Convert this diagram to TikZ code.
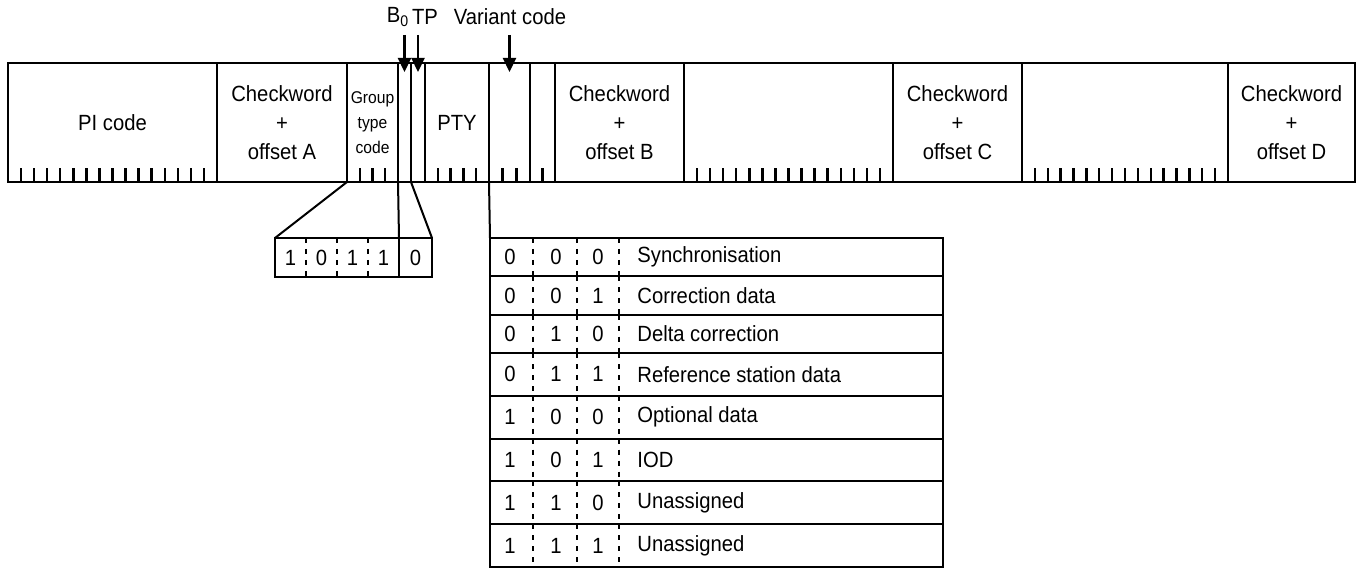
\documentclass[tikz,border=0pt]{standalone}
\usepackage{fontspec}
\setmainfont{Liberation Sans}[FakeStretch=0.92]
\usetikzlibrary{arrows.meta, positioning, calc}

\tikzset{
  fld/.style={draw, rectangle, line width=1.25pt, minimum height=59.5pt,
    inner sep=0pt, outer sep=0pt, align=center},
  tick/.style={line width=1.2pt},
  arr/.style={line width=1.1pt, -{Triangle[length=7pt,width=6.5pt]}},
  link/.style={line width=1pt},
  cell/.style={draw, rectangle, line width=1pt, minimum height=19.5pt,
    inner sep=0pt, outer sep=0pt},
  rowbox/.style={draw, rectangle, line width=1pt, minimum width=226.5pt,
    inner sep=0pt, outer sep=0pt},
  sep/.style={line width=1.2pt, dash pattern=on 2.5pt off 3pt},
  lbl/.style={inner sep=0pt}
}

\begin{document}
\begin{tikzpicture}[x=0.5pt, y=0.5pt, font=\fontsize{11}{14.5}\selectfont]
  \useasboundingbox (0,0) rectangle (1357,569);

  % the block of the group
  \node[fld, minimum width=104.5pt, anchor=south west] (pi) at (8,387) {PI code};
  \node[fld, minimum width=65pt, right=0pt of pi] (cka) {Checkword\\+\\offset A};
  \node[fld, minimum width=25.5pt, right=0pt of cka,
    font=\fontsize{8.5}{12.5}\selectfont] (gt) {Group\\type\\code};
  \node[fld, minimum width=6.5pt, right=0pt of gt] (b0) {};
  \node[fld, minimum width=7pt, right=0pt of b0] (tp) {};
  \node[fld, minimum width=32pt, right=0pt of tp] (pty) {PTY};
  \node[fld, minimum width=20.5pt, right=0pt of pty] (vc) {};
  \node[fld, minimum width=12.5pt, right=0pt of vc] (sp) {};
  \node[fld, minimum width=64.5pt, right=0pt of sp] (ckb) {Checkword\\+\\offset B};
  \node[fld, minimum width=104.5pt, right=0pt of ckb] (bd) {};
  \node[fld, minimum width=64.5pt, right=0pt of bd] (ckc) {Checkword\\+\\offset C};
  \node[fld, minimum width=103pt, right=0pt of ckc] (bc) {};
  \node[fld, minimum width=63.5pt, right=0pt of bc] (ckd) {Checkword\\+\\offset D};

  % bit ticks
  \foreach \f/\n in {pi/16, gt/4, pty/5, vc/3, sp/2, bd/16, bc/16} {
    \pgfmathtruncatemacro\m{\n-1}
    \foreach \k in {1,...,\m}
      \draw[tick] ($(\f.south west)!\k/\n!(\f.south east)$) -- ++(0,14);
  }

  % labels on top
  \node[lbl] (b0lbl) at (398,552) {B\textsubscript{0}};
  \node[lbl] (tplbl) at (425,552) {TP};
  \node[lbl] (vclbl) at (510,552) {Variant code};
  \draw[arr] ([yshift=14pt]b0.north) -- ([yshift=-4.5pt]b0.north);
  \draw[arr] ([yshift=14pt]tp.north) -- ([yshift=-4.5pt]tp.north);
  \draw[arr] ([yshift=14pt]vc.north) -- ([yshift=-4.5pt]vc.north);

  % group type expanded
  \node[cell, minimum width=62pt, anchor=north west] (gtx) at (275,331) {};
  \node[cell, minimum width=16.5pt, right=0pt of gtx] (b0x) {0};
  \foreach \d [count=\i] in {1,0,1,1}
    \node at ($(gtx.west)+(\i*31-15.5,0)$) {\d};
  \foreach \i in {1,2,3}
    \draw[sep] ($(gtx.north west)+(\i*31,0)$) -- ($(gtx.south west)+(\i*31,0)$);
  \draw[link] (gt.south west) -- (gtx.north west);
  \draw[link] (b0.south west) -- (b0x.north west);
  \draw[link] (b0.south east) -- (b0x.north east);

  % variant code table
  \foreach \a/\b/\c/\txt/\top/\h [count=\i] in {
      0/0/0/Synchronisation/331/19.15pt,
      0/0/1/Correction data/292.7/19.15pt,
      0/1/0/Delta correction/254.3/19.15pt,
      0/1/1/Reference station data/216/21.4pt,
      1/0/0/Optional data/173.2/21.4pt,
      1/0/1/IOD/130.4/21.4pt,
      1/1/0/Unassigned/87.6/21.4pt,
      1/1/1/Unassigned/44.8/21.4pt} {
    \node[rowbox, minimum height=\h, anchor=north west] (r\i) at (490,\top) {};
    \node at ($(r\i.west)+(20,0)$) {\a};
    \node at ($(r\i.west)+(66,0)$) {\b};
    \node at ($(r\i.west)+(108,0)$) {\c};
    \node[lbl, anchor=west] at ($(r\i.west)+(147,0)$) {\txt};
    \foreach \s in {43,87,129}
      \draw[sep] ($(r\i.north west)+(\s,0)$) -- ($(r\i.south west)+(\s,0)$);
  }
  \draw[link] (vc.south west) -- (r1.north west);
\end{tikzpicture}
\end{document}
